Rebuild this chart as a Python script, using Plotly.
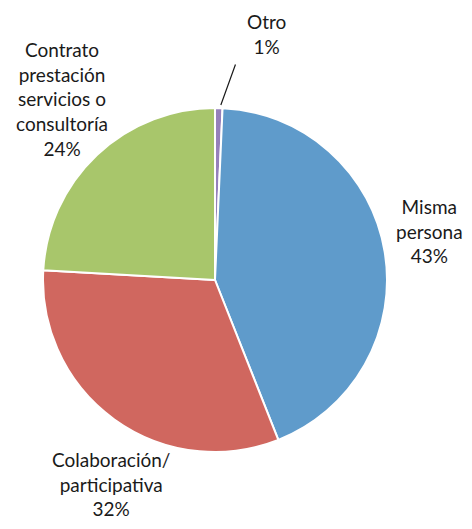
import math
import plotly.graph_objects as go

# ---- data ----
labels = ["Otro", "Misma persona", "Colaboración/participativa",
          "Contrato prestación servicios o consultoría"]
label_text = ["Otro", "Misma<br>persona", "Colaboración/<br>participativa",
              "Contrato<br>prestación<br>servicios o<br>consultoría"]
values = [0.7, 43.3, 31.9, 24.1]
colors = ["#9580bb", "#5f9bcb", "#d0675f", "#a8c66b"]

# ---- layout geometry (pixels in the page; the page body has an 8px margin) ----
OFF = 8
W, H = 472 - 2 * OFF, 529 - 2 * OFF
cx, cy, R = 215 - OFF, 280 - OFF, 172
label_pos = [(266, 34), (429, 231), (111, 484), (62, 99)]  # text block centres (page px)
label_pos = [(x - OFF, y - OFF) for x, y in label_pos]
leader_from = (236 - OFF, 63 - OFF)

total = sum(values)
pct = [round(v / total * 100) for v in values]

fig = go.Figure(go.Pie(
    labels=labels,
    values=values,
    sort=False,
    direction="clockwise",
    rotation=0,
    marker=dict(colors=colors, line=dict(color="white", width=2)),
    textinfo="none",
    hoverinfo="label+percent",
    showlegend=False,
    domain=dict(x=[(cx - R) / W, (cx + R) / W],
                y=[1 - (cy + R) / H, 1 - (cy - R) / H]),
))

font = dict(family="Lato, 'Open Sans', sans-serif", size=19, color="#1a1a1a")
annotations = []
for txt, p, (lx, ly) in zip(label_text, pct, label_pos):
    annotations.append(dict(
        x=lx / W, y=1 - ly / H, xref="paper", yref="paper",
        text=f"{txt}<br>{p}%", showarrow=False, font=font,
        xanchor="center", yanchor="middle", align="center"))

# leader line for the smallest slice, ending at its outer edge
theta = math.radians(values[0] / 2 / total * 360)
ex = cx + (R + 3) * math.sin(theta) + 2
ey = cy - (R + 3) * math.cos(theta)
annotations.append(dict(
    x=ex / W, y=1 - ey / H, xref="paper", yref="paper",
    ax=leader_from[0] - ex, ay=leader_from[1] - ey,
    text="", showarrow=True, arrowhead=0, arrowwidth=1.2, arrowcolor="#1a1a1a",
    standoff=0, startstandoff=0))

fig.update_layout(
    width=W, height=H,
    margin=dict(l=0, r=0, t=0, b=0),
    paper_bgcolor="white", plot_bgcolor="white",
    annotations=annotations,
)

fig.write_html("out.html")
